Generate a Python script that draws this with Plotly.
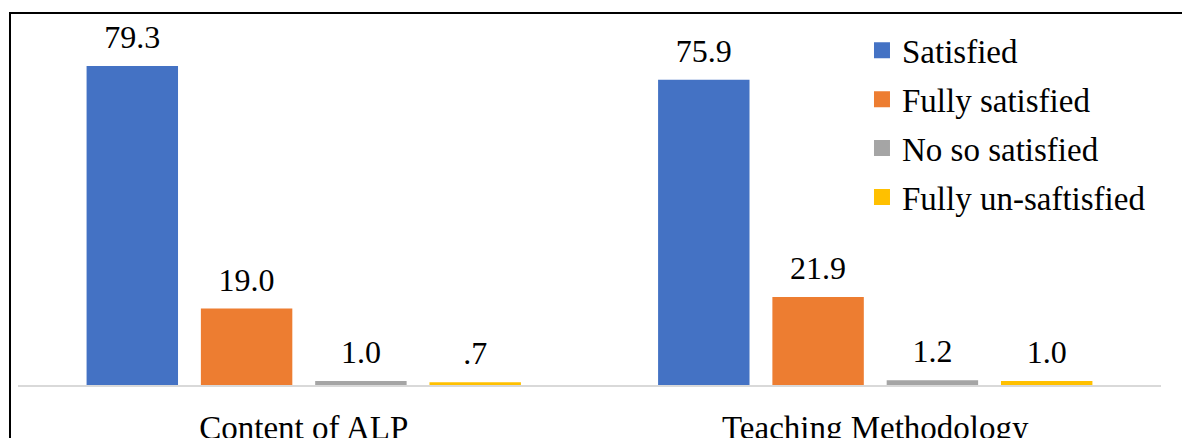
import plotly.graph_objects as go

categories = ["Content of ALP", "Teaching Methodology"]
series_names = ["Satisfied", "Fully satisfied", "No so satisfied", "Fully un-saftisfied"]
satisfied = [79.3, 75.9]
fully_satisfied = [19.0, 21.9]
not_so_satisfied = [1.0, 1.2]
fully_unsatisfied = [0.7, 1.0]
series_colors = ["#4472C4", "#ED7D31", "#A5A5A5", "#FFC000"]

FONT = "Liberation Serif"
series_values = [satisfied, fully_satisfied, not_so_satisfied, fully_unsatisfied]


def fmt(v):
    s = f"{v:.1f}"
    return s[1:] if s.startswith("0.") else s


fig = go.Figure()
for name, vals, color in zip(series_names, series_values, series_colors):
    fig.add_trace(go.Bar(
        x=categories, y=vals, name=name, offsetgroup=name,
        marker=dict(color=color, line=dict(width=0)),
        showlegend=False, hoverinfo="skip",
    ))
for name, vals, color in zip(series_names, series_values, series_colors):
    # value labels sitting above each bar (invisible marker sets the gap)
    fig.add_trace(go.Scatter(
        x=categories, y=vals, offsetgroup=name, mode="markers+text",
        text=[fmt(v) for v in vals], textposition="top center",
        textfont=dict(family=FONT, size=32, color="#000000"),
        marker=dict(size=14, opacity=0), cliponaxis=False,
        showlegend=False, hoverinfo="skip",
    ))
for name, color in zip(series_names, series_colors):
    # legend entry with a larger square swatch
    fig.add_trace(go.Scatter(
        x=[None], y=[None], mode="markers", name=name, legendgroup=name,
        marker=dict(symbol="square", size=16, color=color),
    ))

fig.update_layout(
    width=1182, height=438,
    margin=dict(l=18, r=21, t=23, b=53, autoexpand=False),
    paper_bgcolor="white", plot_bgcolor="white",
    barmode="group", bargap=0.2, bargroupgap=0.2,
    scattermode="group", scattergap=0.2,
    font=dict(family=FONT, size=32, color="#000000"),
    legend=dict(
        x=0.7384, y=1.002, xanchor="left", yanchor="top",
        font=dict(family=FONT, size=33, color="#000000"),
        tracegroupgap=3, bgcolor="rgba(0,0,0,0)",
    ),
    xaxis=dict(
        showline=True, linecolor="#D9D9D9", linewidth=1.5, automargin=False,
        showgrid=False, ticks="", zeroline=False, ticklabelstandoff=13,
        tickfont=dict(family=FONT, size=33, color="#000000"),
    ),
    yaxis=dict(range=[0, 90], visible=False, showgrid=False, zeroline=False,
               automargin=False),
    shapes=[dict(
        type="rect", xref="paper", yref="paper",
        x0=-0.007, x1=1.1, y0=-0.3, y1=1.0276,
        line=dict(color="#000000", width=2), fillcolor="rgba(0,0,0,0)",
    )],
)

fig.write_html("out.html")
